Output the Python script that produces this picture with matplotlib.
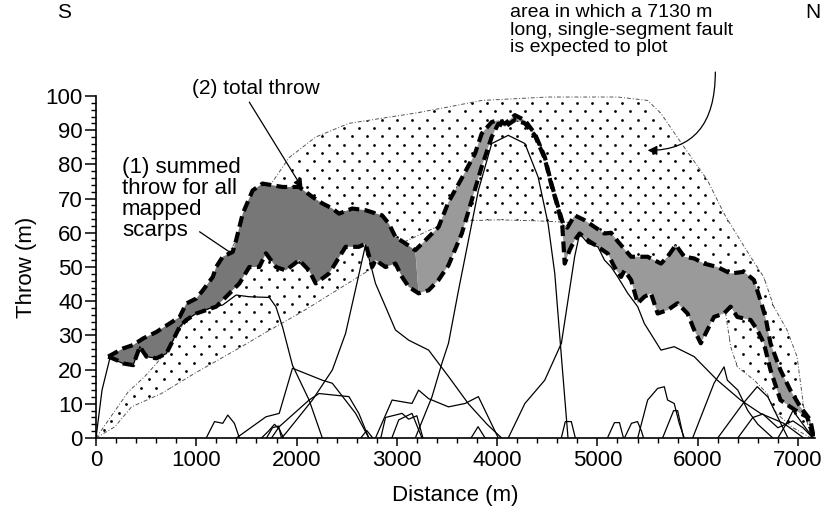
import numpy as np
import matplotlib.pyplot as plt
from matplotlib.ticker import MultipleLocator

plt.rcParams['font.family'] = ['Liberation Sans', 'DejaVu Sans']

# area expected for a 7130 m single-segment fault (dotted)
env_top_x = [0, 321, 487, 700, 900, 1100, 1363, 1600, 1926, 2191, 2522, 3184, 3515, 3846, 4508,
             5203, 5501, 5634, 5866, 6097, 6263, 6362, 6527, 6660, 6759, 6891, 6991, 7057, 7130]
env_top_y = [0, 13.5, 18, 25, 35, 44, 56, 68, 82, 88, 92, 95, 96.8, 98.7, 99.7,
             99.7, 98.7, 94.9, 85, 75.4, 65.6, 60.8, 53, 47, 38.4, 31.6, 23.8, 9.1, 0]
env_bot_x = [0, 189, 354, 652, 983, 1248, 1480, 1700, 2060, 2390, 2720, 3050, 3380, 3700, 4000,
             4400, 4750, 5000, 5300, 5600, 5900, 6200, 6279, 6329, 6395, 6561, 6693, 6760, 6825,
             6950, 7130]
env_bot_y = [0, 3.3, 9.1, 13, 18.9, 23.3, 27.2, 31, 37, 43, 49, 57, 61.5, 63.5, 63.8,
             63.5, 63, 58, 52, 46, 42, 38.5, 36.4, 26.7, 20.8, 17, 13, 8.2, 6.2,
             3, 0]

# (2) total throw
total_x = [122, 271, 371, 470, 602, 735, 834, 900, 1000, 1066, 1165, 1198, 1264, 1363, 1397,
           1463, 1562, 1661, 1860, 2026, 2158, 2257, 2357, 2423, 2555, 2688, 2853, 2920, 2986,
           3085, 3184, 3284, 3416, 3515, 3648, 3780, 3846, 3946, 4012, 4078, 4177, 4277, 4376,
           4475, 4541, 4608, 4657, 4700, 4773, 4872, 4972, 5071, 5137, 5203, 5336, 5501, 5634,
           5700, 5782, 5866, 5965, 6064, 6196, 6328, 6462, 6561, 6626, 6676, 6726, 6825, 6924,
           7024, 7123, 7156]
total_y = [23.8, 26.2, 27.2, 29.1, 31, 33.5, 35.4, 39.3, 40.8, 43.2, 47.1, 50, 53, 54.4, 57.8,
           65.6, 72.4, 74.4, 73.4, 73.4, 70.5, 68.6, 67.1, 65.6, 67.1, 66.6, 65.1, 62.7, 58.8,
           56.9, 54.9, 57.8, 61.7, 69, 76, 83.2, 89, 92.4, 92.9, 91.9, 94.4, 92.9, 89,
           82.2, 74.4, 67.6, 62.7, 61.5, 65.1, 63.7, 61.7, 59.8, 60, 57.5, 53, 53, 51,
           53, 56.4, 53, 52.5, 51, 50, 48.1, 48.6, 46.2, 40.3, 35.4, 27.7, 19.9, 14,
           9.1, 5.3, 0.4]

# (1) summed throw for all mapped scarps
summed_x = [122, 205, 271, 371, 437, 503, 602, 702, 768, 834, 900, 1000, 1099, 1198, 1298,
            1430, 1529, 1628, 1695, 1794, 1893, 2026, 2125, 2191, 2324, 2489, 2621, 2688, 2754,
            2787, 2887, 2986, 3052, 3118, 3217, 3317, 3416, 3515, 3648, 3747, 3846, 3946, 4012,
            4078, 4177, 4277, 4376, 4475, 4541, 4608, 4650, 4674, 4724, 4773, 4823, 4906, 5005,
            5104, 5170, 5236, 5270, 5336, 5402, 5468, 5534, 5601, 5700, 5799, 5899, 5965, 6031,
            6097, 6163, 6262, 6328, 6395, 6528, 6594, 6660, 6726, 6825, 6924, 7024, 7090, 7156]
summed_y = [23.8, 22.8, 21.8, 21.3, 26.7, 23.8, 23.3, 24.7, 28.6, 32.5, 34.5, 36.4, 37.4, 38.4, 41.3,
            45.2, 50, 50, 54, 50, 49, 52, 49, 45.2, 48.1, 55.9, 55.9, 56.8, 50,
            52, 50, 51, 47.1, 44.2, 42.3, 43.2, 46.2, 50.5, 59.8, 69.5, 79.3, 88, 91.9,
            91, 93, 92, 88.5, 81.7, 74, 67.2, 62, 51, 55, 57.8, 59.8, 57.8, 55.9,
            53.9, 50, 47.1, 49, 46.2, 39.4, 41.3, 42.3, 36.4, 37.4, 39.4, 36.4, 31.6, 27.7,
            31.6, 35.4, 36.4, 38.4, 35.4, 34.5, 31.6, 27.7, 19.9, 11.1, 9.1, 7.2, 6.2, 0.4]

# individual mapped scarps
s1_x = [0, 60, 139, 271, 371, 437, 503, 602, 702, 768, 834, 900, 1000, 1132, 1264, 1397, 1529,
        1728, 1794, 1860, 1959, 2125, 2257]
s1_y = [0, 14, 23.4, 21.8, 21.3, 26.7, 23.8, 23.3, 24.7, 28.6, 32.5, 34.5, 36.4, 37.9, 38.9, 41.8, 41.3,
        41.1, 38.4, 32.5, 21.3, 11.1, 0]
s2_x = [1850, 1893, 2158, 2357, 2489, 2600, 2688, 2787, 2887, 2986, 3118, 3317, 3515, 3714, 3900, 4045]
s2_y = [0, 1.4, 11.1, 19.9, 30.6, 45, 56.5, 45.2, 38.4, 31.6, 28.6, 25.7, 18, 10, 4, 0]
s3_x = [3184, 3350, 3449, 3515, 3615, 3714, 3813, 3946, 4111, 4277, 4409, 4508, 4575, 4641, 4707]
s3_y = [0, 12, 21.8, 27.7, 43.2, 57.8, 72.4, 86.1, 88.5, 86.1, 76.3, 62.7, 48.1, 23.8, 0]
s4_x = [4111, 4277, 4475, 4641, 4773, 4823, 4906, 5005, 5071, 5137, 5203, 5303, 5402, 5468, 5634,
        5766, 5965, 6196, 6428, 6626, 6858, 7057]
s4_y = [0, 10.1, 16.9, 27.7, 53, 59.8, 56.9, 55.9, 52, 50, 47.1, 42.3, 38.4, 33.5, 25.7,
        26.7, 23.8, 16.9, 11.1, 7.2, 4.3, 0]
s5_x = [1400, 1695, 1827, 1959, 2257, 2357, 2589, 2721]
s5_y = [0, 6.2, 7.2, 20.4, 16.9, 16, 7.2, 0]
s6_x = [1750, 1827, 2125, 2224, 2522, 2621, 2721]
s6_y = [0, 3.3, 11.1, 13, 12.1, 7.2, 0]
s7_x = [2787, 2953, 3151, 3217, 3317, 3515, 3681, 3813, 4012]
s7_y = [0, 11.1, 10.1, 14, 11.5, 9.1, 10.1, 12.1, 0]
s8_x = [2840, 2887, 3052, 3118, 3200, 3260]
s8_y = [0, 6, 7.2, 5.5, 6.5, 0]
s9_x = [1099, 1182, 1264, 1314, 1380, 1430]
s9_y = [0, 4.8, 4.3, 6.7, 4.3, 0]
s10_x = [2950, 3019, 3151, 3251]
s10_y = [0, 5.3, 7.2, 0]
s11_x = [3740, 3810, 3880]
s11_y = [0, 3.3, 0]
s12_x = [4640, 4680, 4740, 4780]
s12_y = [0, 4.8, 4.8, 0]
s13_x = [5100, 5170, 5220, 5260]
s13_y = [0, 4.5, 4.5, 0]
s14_x = [5270, 5340, 5400, 5440, 5460]
s14_y = [0, 4.3, 4.8, 2, 0]
s15_x = [5402, 5501, 5601, 5667, 5700, 5766, 5816, 5866]
s15_y = [0, 11.1, 14.5, 15, 11.1, 10.1, 4.3, 0]
s16_x = [5950, 6163, 6263, 6296, 6400, 6500, 6600, 6750]
s16_y = [0, 16, 20.8, 16.9, 14, 8, 4, 0]
s17_x = [6200, 6450, 6594, 6700, 6800, 6900]
s17_y = [0, 10, 15, 12, 6, 0]
s18_x = [6400, 6550, 6650, 6800, 6950, 7050, 7150]
s18_y = [0, 6, 7, 3, 5, 3, 0]
s19_x = [6800, 6900, 6950, 7000, 7100, 7150]
s19_y = [0, 5, 8, 6, 2, 0]
s20_x = [1650, 1720, 1780, 1830, 1870]
s20_y = [0, 2, 4, 2.5, 0]
s21_x = [1700, 1760, 1820, 1850]
s21_y = [0, 3, 3.5, 0]
s22_x = [2640, 2700, 2760]
s22_y = [0, 2.2, 0]
s23_x = [5650, 5760, 5800, 5860]
s23_y = [0, 8, 8, 0]

scarps = [(s1_x, s1_y), (s2_x, s2_y), (s3_x, s3_y), (s4_x, s4_y), (s5_x, s5_y), (s6_x, s6_y),
          (s7_x, s7_y), (s8_x, s8_y), (s9_x, s9_y), (s10_x, s10_y), (s11_x, s11_y),
          (s12_x, s12_y), (s13_x, s13_y), (s14_x, s14_y), (s15_x, s15_y), (s16_x, s16_y),
          (s17_x, s17_y), (s18_x, s18_y), (s19_x, s19_y), (s20_x, s20_y), (s21_x, s21_y),
          (s22_x, s22_y), (s23_x, s23_y)]

fig = plt.figure(figsize=(8.28, 5.22), dpi=100)
ax = fig.add_axes([96/828, 1-438/522, (815-96)/828, (438-96)/522])

# dotted envelope: a staggered dot screen clipped to the envelope polygon
env_poly = ax.fill(np.concatenate([env_top_x, env_bot_x[::-1]]),
                   np.concatenate([env_top_y, env_bot_y[::-1]]),
                   facecolor='none', edgecolor='none', zorder=1)[0]
gx, gy = np.meshgrid(np.arange(0, 7300, 150.0), np.arange(0, 101, 2.45))
gx[1::2] += 75
dots = ax.scatter(gx.ravel(), gy.ravel(), s=4, color='black', linewidths=0, zorder=1)
dots.set_clip_path(env_poly)
ax.plot(env_top_x, env_top_y, color='#555555', lw=0.7, ls=(0, (4, 2, 1, 2)), zorder=2)
ax.plot(env_bot_x, env_bot_y, color='#555555', lw=0.7, ls=(0, (4, 2, 1, 2)), zorder=2)

# grey band between summed and total throw (darker screen on the south half)
ax.fill(np.concatenate([total_x[:31], summed_x[:35][::-1]]),
        np.concatenate([total_y[:31], summed_y[:35][::-1]]),
        facecolor='#777777', edgecolor='none', zorder=3)
ax.fill(np.concatenate([total_x[30:], summed_x[34:][::-1]]),
        np.concatenate([total_y[30:], summed_y[34:][::-1]]),
        facecolor='#9a9a9a', edgecolor='none', zorder=3)

for sx, sy in scarps:
    ax.plot(sx, sy, color='black', lw=0.9, zorder=4)

ax.plot(total_x, total_y, color='black', lw=3, ls=(0, (2.6, 1.3)), zorder=5)
ax.plot(summed_x, summed_y, color='black', lw=3, ls=(0, (2.6, 1.3)), zorder=5)

ax.set_xlim(0, 7170)
ax.set_ylim(0, 100)
for side in ['top', 'right']:
    ax.spines[side].set_visible(False)
ax.spines['left'].set_linewidth(1.2)
ax.spines['bottom'].set_linewidth(1.2)
ax.xaxis.set_major_locator(MultipleLocator(1000))
ax.xaxis.set_minor_locator(MultipleLocator(200))
ax.yaxis.set_major_locator(MultipleLocator(10))
ax.yaxis.set_minor_locator(MultipleLocator(2))
ax.tick_params(axis='both', which='major', direction='out', width=1.1, labelsize=16)
ax.tick_params(axis='x', which='major', length=6, pad=3)
ax.tick_params(axis='y', which='major', length=8, pad=1.5)
ax.tick_params(axis='both', which='minor', direction='out', length=3.5, width=1)
ax.set_xlabel('Distance (m)', fontsize=16, labelpad=10)
ax.set_ylabel('Throw (m)', fontsize=16, labelpad=6)

fig.text(64/828, 1-13/522, 'S', fontsize=15, ha='center', va='center')
fig.text(813/828, 1-13/522, 'N', fontsize=15, ha='center', va='center')
fig.text(510/828, 1-4/522, 'area in which a 7130 m\nlong, single-segment fault\nis expected to plot',
         fontsize=14, ha='left', va='top', linespacing=1.05)
fig.text(192/828, 1-89/522, '(2) total throw', fontsize=15, ha='left', va='center')
fig.text(122/828, 1-157/522, '(1) summed\nthrow for all\nmapped\nscarps', fontsize=16,
         ha='left', va='top', linespacing=1.0)

ax.annotate('', xy=(2059, 73), xytext=(1529, 98.2), annotation_clip=False,
            arrowprops=dict(arrowstyle='-|>', color='black', lw=0.9, mutation_scale=14,
                            shrinkA=0, shrinkB=0))
ax.annotate('', xy=(1331, 54.4), xytext=(1033, 60.3), annotation_clip=False,
            arrowprops=dict(arrowstyle='-', color='black', lw=0.9, shrinkA=0, shrinkB=0))
ax.annotate('', xy=(5501, 84.1), xytext=(6176, 107), annotation_clip=False,
            arrowprops=dict(arrowstyle='-|>', color='black', lw=0.9, mutation_scale=14,
                            shrinkA=0, shrinkB=0,
                            connectionstyle='angle3,angleA=90,angleB=0'))

fig.savefig('out.png', dpi=100)
